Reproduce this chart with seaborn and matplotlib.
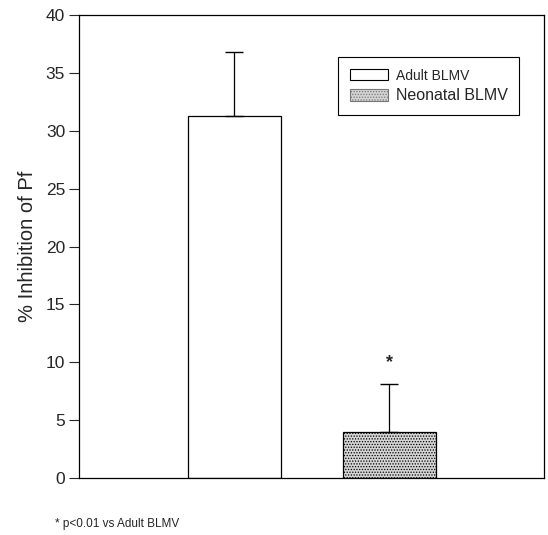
import matplotlib
matplotlib.use("Agg")
import matplotlib.pyplot as plt
import seaborn as sns
import pandas as pd
import numpy as np
from matplotlib.patches import Patch

groups = ["Adult BLMV", "Neonatal BLMV"]
means = [31.3, 4.0]
errors = [5.5, 4.1]
sig_marks = ["", "*"]
yticks = [0, 5, 10, 15, 20, 25, 30, 35, 40]
ylabel = "% Inhibition of Pf"
footnote = "* p<0.01 vs Adult BLMV"

sns.set_theme(style="white")
plt.rcParams["font.family"] = ["Liberation Sans", "DejaVu Sans"]
plt.rcParams["hatch.linewidth"] = 0.6
plt.rcParams["hatch.color"] = "#888888"

df = pd.DataFrame({"group": groups, "mean": means, "err": errors})

fig = plt.figure(figsize=(5.48, 5.35), dpi=100)
ax = fig.add_axes([0.1442, 0.1065, 0.9927 - 0.1442, 0.972 - 0.1065])

sns.barplot(data=df, x="group", y="mean", ax=ax, width=0.6,
            palette=["white", "#d4d4d4"], hue="group", legend=False,
            edgecolor="black", linewidth=0.9, errorbar=None)
bars = ax.patches
bars[1].set_hatch("......")

x = np.arange(len(groups))
ax.errorbar(x, df["mean"], yerr=[np.zeros(len(groups)), df["err"]],
            fmt="none", ecolor="black", elinewidth=0.9, capsize=6.5, capthick=1.0, zorder=3)

for xi, m, e, s in zip(x, means, errors, sig_marks):
    if s:
        ax.text(xi, m + e + 1.9, s, ha="center", va="center", fontsize=13, fontweight="bold")

ax.set_xlim(-1.0, 2.0)
ax.set_ylim(0, 40)
ax.set_yticks(yticks)
ax.set_yticklabels([str(t) for t in yticks], fontsize=12.5)
ax.set_xticks([])
ax.set_xlabel("")
ax.set_ylabel(ylabel, fontsize=14.5, labelpad=6)
ax.tick_params(axis="y", direction="out", length=7, width=0.8, left=True, pad=3)
for sp in ax.spines.values():
    sp.set_visible(True)
    sp.set_color("black")
    sp.set_linewidth(0.9)

handles = [Patch(facecolor="white", edgecolor="black", linewidth=0.8),
           Patch(facecolor="#d4d4d4", edgecolor="#777777", linewidth=0.8, hatch="......")]
leg = ax.legend(handles, groups, loc="upper right", bbox_to_anchor=(0.946, 0.909),
                frameon=True, fancybox=False, edgecolor="black", framealpha=1,
                handlelength=2.5, handleheight=0.8, handletextpad=0.5,
                borderpad=0.75, labelspacing=0.35, borderaxespad=0)
leg.get_frame().set_linewidth(0.8)
texts = leg.get_texts()
texts[0].set_fontsize(10)
texts[1].set_fontsize(11.5)

fig.text(0.1, 0.01, footnote, fontsize=8.5, ha="left", va="bottom")

fig.savefig("out.png", dpi=100)
